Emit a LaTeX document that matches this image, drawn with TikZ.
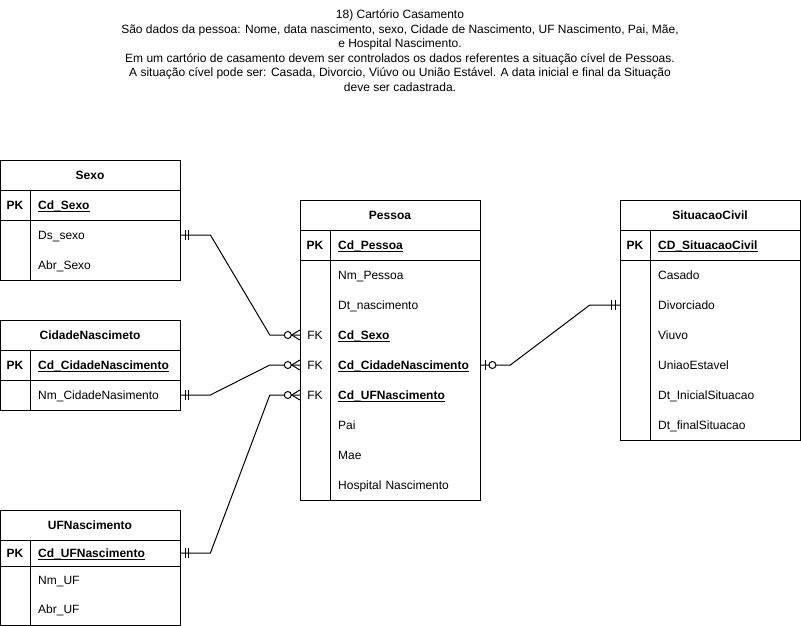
\documentclass[tikz,border=0pt]{standalone}
\usepackage{fontspec}
\setmainfont{Liberation Sans}
\usetikzlibrary{calc}
\newcommand\keyul[1]{\setbox0\hbox{\bfseries #1}\rlap{\rule[-2.3pt]{\wd0}{0.9pt}}\box0}
\tikzset{
  tbl/.style={draw, line width=1pt},
  hdr/.style={font=\fontsize{12}{14}\selectfont\bfseries, inner sep=0, text height=10pt, text depth=1pt},
  fld/.style={anchor=west, minimum height=30pt, text width=134pt, inner xsep=8pt, inner ysep=0, align=left, font=\fontsize{12}{14}\selectfont, text height=10pt, text depth=1pt},
  keylbl/.style={minimum width=30pt, minimum height=30pt, inner sep=0, font=\fontsize{12}{14}\selectfont, text height=10pt, text depth=1pt},
  conn/.style={line width=1pt},
  ermark/.style={line width=1pt},
}
\begin{document}
\begin{tikzpicture}[x=1pt,y=-1pt]
\useasboundingbox (0,0) rectangle (801,626);
% title
\node[align=center, inner sep=0, anchor=north, font=\fontsize{12}{14.5}\selectfont] (title) at (400,9.5) {18) Cartório Casamento\\
São dados da pessoa: Nome, data nascimento, sexo, Cidade de Nascimento, UF Nascimento, Pai, Mãe,\\
e Hospital Nascimento.\\
Em um cartório de casamento devem ser controlados os dados referentes a situação cível de Pessoas.\\
A situação cível pode ser: Casada, Divorcio, Viúvo ou União Estável. A data inicial e final da Situação\\
deve ser cadastrada.};

% ---- Sexo
\draw[tbl] (0,160) rectangle (180,280);
\draw[tbl] (0,190) -- (180,190) (0,220) -- (180,220) (30,190) -- (30,280);
\node[hdr] (sexo) at (90,175) {Sexo};
\node[keylbl, font=\fontsize{12}{14}\selectfont\bfseries] (sexo-pk) at (15,205) {PK};
\node[fld] (sexo-cd) at (30,205) {\keyul{Cd\_Sexo}};
\node[fld] (sexo-ds) at (30,235) {Ds\_sexo};
\node[fld] (sexo-abr) at (30,265) {Abr\_Sexo};

% ---- CidadeNascimeto
\draw[tbl] (0,320) rectangle (180,410);
\draw[tbl] (0,350) -- (180,350) (0,380) -- (180,380) (30,350) -- (30,410);
\node[hdr] (cid) at (90,335) {CidadeNascimeto};
\node[keylbl, font=\fontsize{12}{14}\selectfont\bfseries] (cid-pk) at (15,365) {PK};
\node[fld] (cid-cd) at (30,365) {\keyul{Cd\_CidadeNascimento}};
\node[fld] (cid-nm) at (30,395) {Nm\_CidadeNasimento};

% ---- UFNascimento
\draw[tbl] (0,510) rectangle (180,625);
\draw[tbl] (0,540) -- (180,540) (0,566) -- (180,566) (30,540) -- (30,625);
\node[hdr] (uf) at (90,525) {UFNascimento};
\node[keylbl, minimum height=26pt, font=\fontsize{12}{14}\selectfont\bfseries] (uf-pk) at (15,553) {PK};
\node[fld, minimum height=26pt] (uf-cd) at (30,553) {\keyul{Cd\_UFNascimento}};
\node[fld] (uf-nm) at (30,580) {Nm\_UF};
\node[fld] (uf-abr) at (30,609) {Abr\_UF};

% ---- Pessoa
\draw[tbl] (300,200) rectangle (480,500);
\draw[tbl] (300,230) -- (480,230) (300,260) -- (480,260) (330,230) -- (330,500);
\node[hdr] (pe) at (390,215) {Pessoa};
\node[keylbl, font=\fontsize{12}{14}\selectfont\bfseries] (pe-pk) at (315,245) {PK};
\node[fld] (pe-cd) at (330,245) {\keyul{Cd\_Pessoa}};
\node[fld] (pe-nm) at (330,275) {Nm\_Pessoa};
\node[fld] (pe-dt) at (330,305) {Dt\_nascimento};
\node[keylbl] (pe-fk1) at (315,335) {FK};
\node[fld] (pe-sexo) at (330,335) {\keyul{Cd\_Sexo}};
\node[keylbl] (pe-fk2) at (315,365) {FK};
\node[fld] (pe-cid) at (330,365) {\keyul{Cd\_CidadeNascimento}};
\node[keylbl] (pe-fk3) at (315,395) {FK};
\node[fld] (pe-uf) at (330,395) {\keyul{Cd\_UFNascimento}};
\node[fld] (pe-pai) at (330,425) {Pai};
\node[fld] (pe-mae) at (330,455) {Mae};
\node[fld] (pe-hosp) at (330,485) {Hospital Nascimento};

% ---- SituacaoCivil
\draw[tbl] (620,200) rectangle (800,440);
\draw[tbl] (620,230) -- (800,230) (620,260) -- (800,260) (650,230) -- (650,440);
\node[hdr] (sc) at (710,215) {SituacaoCivil};
\node[keylbl, font=\fontsize{12}{14}\selectfont\bfseries] (sc-pk) at (635,245) {PK};
\node[fld] (sc-cd) at (650,245) {\keyul{CD\_SituacaoCivil}};
\node[fld] (sc-cas) at (650,275) {Casado};
\node[keylbl] (sc-k2) at (635,305) {};
\node[fld] (sc-div) at (650,305) {Divorciado};
\node[fld] (sc-viu) at (650,335) {Viuvo};
\node[fld] (sc-ue) at (650,365) {UniaoEstavel};
\node[fld] (sc-dti) at (650,395) {Dt\_InicialSituacao};
\node[fld] (sc-dtf) at (650,425) {Dt\_finalSituacao};

% ---- connectors
\draw[conn] (sexo-ds.east) -- ++(30,0) -- ($(pe-fk1.west)+(-30,0)$) -- (pe-fk1.west);
\draw[conn] (cid-nm.east) -- ++(30,0) -- ($(pe-fk2.west)+(-30,0)$) -- (pe-fk2.west);
\draw[conn] (uf-cd.east) -- ++(30,0) -- ($(pe-fk3.west)+(-30,0)$) -- (pe-fk3.west);
\draw[conn] (pe-cid.east) -- ++(30,0) -- ($(sc-k2.west)+(-30,0)$) -- (sc-k2.west);

% mandatory-one marks
\foreach \n in {sexo-ds, cid-nm, uf-cd}{
  \draw[ermark] ($(\n.east)+(5,-5)$) -- ++(0,10);
  \draw[ermark] ($(\n.east)+(8.5,-5)$) -- ++(0,10);
}
\draw[ermark] ($(sc-k2.west)+(-8,-5)$) -- ++(0,10);
\draw[ermark] ($(sc-k2.west)+(-4.5,-5)$) -- ++(0,10);

% zero-to-many marks
\foreach \n in {pe-fk1, pe-fk2, pe-fk3}{
  \draw[ermark] ($(\n.west)+(0,-5)$) -- ($(\n.west)+(-8,0)$) -- ($(\n.west)+(0,5)$);
  \draw[ermark, fill=white] ($(\n.west)+(-12,0)$) circle (3.5pt);
}
% zero-to-one mark
\draw[ermark] ($(pe-cid.east)+(5,-5)$) -- ++(0,10);
\draw[ermark, fill=white] ($(pe-cid.east)+(12,0)$) circle (3.5pt);
\end{tikzpicture}
\end{document}
